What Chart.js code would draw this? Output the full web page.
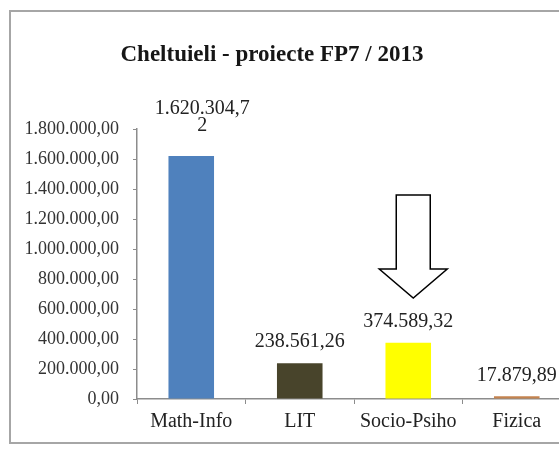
<!DOCTYPE html>
<html>
<head>
<meta charset="utf-8">
<script src="https://cdn.jsdelivr.net/npm/chart.js@4.4.0/dist/chart.umd.min.js"></script>
<style>
    html, body { margin: 0; padding: 0; background: #fff; overflow: hidden; width: 559px; height: 451px; }
    #frame { position: absolute; left: 9px; top: 10px; width: 600px; height: 434px; border: 2px solid #a6a6a6; box-sizing: border-box; }
    #wrap { position: absolute; left: 0; top: 0; width: 600px; height: 451px; }
</style>
</head>
<body>
<div id="frame"></div>
<div id="wrap"><canvas id="myChart" width="600" height="451"></canvas></div>
<script>
const titlu = 'Cheltuieli - proiecte FP7 / 2013'
const categorii = ['Math-Info', 'LIT', 'Socio-Psiho', 'Fizica']
const valori = [1620304.72, 238561.26, 374589.32, 17879.89]
const culori = ['#4f81bd', '#48442b', '#ffff00', '#c4834f']
const yMax = 1800000
const yPas = 200000

const serif = '"Liberation Serif", "Times New Roman", serif'

// format romanesc: 1.234.567,89
const formatRo = v => {
    let parts = v.toFixed(2).split('.')
    let intreg = parts[0].replace(/\B(?=(\d{3})+(?!\d))/g, '.')
    return intreg + ',' + parts[1]
}

// imparte textul pe randuri daca e prea lat (ca in Excel)
const imparte = (ctx, text, maxW) => {
    let linii = []
    let rest = text
    while (ctx.measureText(rest).width > maxW && rest.length > 1) {
        let i = rest.length
        while (i > 1 && ctx.measureText(rest.slice(0, i)).width > maxW) i--
        linii.push(rest.slice(0, i))
        rest = rest.slice(i)
    }
    linii.push(rest)
    return linii
}

const pluginDesen = {
    id: 'desen',
    afterDatasetsDraw(chart) {
        const ctx = chart.ctx
        const meta = chart.getDatasetMeta(0)
        ctx.save()
        ctx.font = '20px ' + serif
        ctx.fillStyle = '#222'
        ctx.textAlign = 'center'
        ctx.textBaseline = 'middle'
        meta.data.forEach((bar, i) => {
            let linii = imparte(ctx, formatRo(valori[i]), 100)
            let yJos = bar.y - 21 - (linii.length - 1) * 9
            // Excel muta putin blocul rupt pe doua randuri
            let dx = linii.length > 1 ? 11 : 0
            linii.forEach((l, k) => {
                ctx.fillText(l, bar.x + dx, yJos - (linii.length - 1 - k) * 17)
            })
        })
        // titlu
        ctx.font = 'bold 23px ' + serif
        ctx.fillStyle = '#161616'
        ctx.fillText(titlu, 272, 55)

        // sageata goala deasupra Socio-Psiho
        const cx = chart.scales.x.getPixelForValue(2) + 5
        ctx.beginPath()
        ctx.moveTo(cx - 17, 195)
        ctx.lineTo(cx + 17, 195)
        ctx.lineTo(cx + 17, 269)
        ctx.lineTo(cx + 34, 269)
        ctx.lineTo(cx, 298)
        ctx.lineTo(cx - 34, 269)
        ctx.lineTo(cx - 17, 269)
        ctx.closePath()
        ctx.fillStyle = '#fff'
        ctx.fill()
        ctx.lineWidth = 1.5
        ctx.strokeStyle = '#000'
        ctx.stroke()
        ctx.restore()
    }
}

var ctx = document.getElementById('myChart').getContext('2d');
var myChart = new Chart(ctx, {
    type: 'bar',
    data: {
        labels: categorii,
        datasets: [{
            data: valori,
            backgroundColor: culori,
            borderWidth: 0,
            barPercentage: 0.42,
            categoryPercentage: 1
        }]
    },
    options: {
        responsive: false,
        animation: false,
        layout: {
            padding: { top: 129, right: 29, bottom: 0, left: 0 }
        },
        plugins: {
            legend: { display: false },
            tooltip: { enabled: false }
        },
        scales: {
            x: {
                offset: true,
                afterFit: s => { s.height = 52 },
                grid: {
                    offset: true,
                    drawOnChartArea: false,
                    drawTicks: true,
                    tickLength: 5,
                    color: '#8c8c8c'
                },
                border: { display: true, color: '#8c8c8c', width: 1.5 },
                ticks: {
                    color: '#222',
                    font: { family: serif, size: 20 },
                    padding: 6,
                    maxRotation: 0
                }
            },
            y: {
                min: 0,
                max: yMax,
                afterFit: s => { s.width = 137 },
                grid: {
                    drawOnChartArea: false,
                    drawTicks: true,
                    tickLength: 4,
                    color: '#8c8c8c'
                },
                border: { display: true, color: '#8c8c8c', width: 1.5 },
                ticks: {
                    stepSize: yPas,
                    color: '#333',
                    font: { family: serif, size: 18 },
                    padding: 14,
                    callback: v => formatRo(v)
                }
            }
        }
    },
    plugins: [pluginDesen]
});
</script>
</body>
</html>
